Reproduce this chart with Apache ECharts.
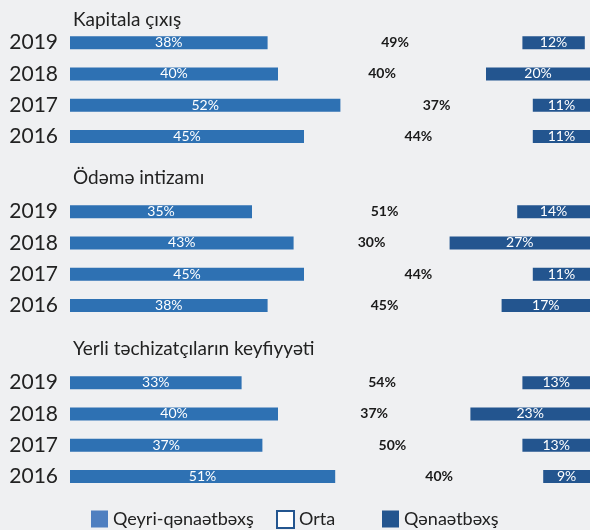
<!DOCTYPE html>
<html>
<head>
<meta charset="utf-8">
<script src="https://cdn.jsdelivr.net/npm/echarts@6/dist/echarts.min.js"></script>
<style>
  html, body { margin: 0; padding: 0; background: #eff0f2; }
  #chart { width: 590px; height: 530px; }
</style>
</head>
<body>
<div id="chart"></div>
<script>
// illər (yuxarıdan aşağı)
const years = ['2019', '2018', '2017', '2016'];
const panelTitles = ['Kapitala çıxış', 'Ödəmə intizamı', 'Yerli təchizatçıların keyfiyyəti'];
const seriesNames = ['Qeyri-qənaətbəxş', 'Orta', 'Qənaətbəxş'];

// Kapitala çıxış
const kapitalaQeyri = [38, 40, 52, 45];
const kapitalaOrta = [49, 40, 37, 44];
const kapitalaQenaet = [12, 20, 11, 11];
// Ödəmə intizamı
const odemeQeyri = [35, 43, 45, 38];
const odemeOrta = [51, 30, 44, 45];
const odemeQenaet = [14, 27, 11, 17];
// Yerli təchizatçıların keyfiyyəti
const yerliQeyri = [33, 40, 37, 51];
const yerliOrta = [54, 37, 50, 40];
const yerliQenaet = [13, 23, 13, 9];

const panels = [
  [kapitalaQeyri, kapitalaOrta, kapitalaQenaet],
  [odemeQeyri, odemeOrta, odemeQenaet],
  [yerliQeyri, yerliOrta, yerliQenaet]
];

const LIGHT = '#2e71b3';
const DARK = '#23558f';
const FONT = 'Lato';
const gridTops = [27, 196, 367];
const titleTops = [5, 163, 334];

const chart = echarts.init(document.getElementById('chart'));

const grids = [], xAxes = [], yAxes = [], series = [], titles = [];
panels.forEach((p, i) => {
  grids.push({ left: 70, right: 0, top: gridTops[i], height: 125 });
  xAxes.push({ gridIndex: i, type: 'value', min: 0, max: 100, show: false });
  yAxes.push({
    gridIndex: i, type: 'category', data: years, inverse: true,
    axisLine: { show: false }, axisTick: { show: false },
    axisLabel: { color: '#222', fontSize: 21, fontFamily: FONT, margin: 12 }
  });
  titles.push({
    text: panelTitles[i], left: 68, top: titleTops[i],
    textStyle: { color: '#222', fontSize: 19, fontWeight: 'normal', fontFamily: FONT }
  });
  const colors = [LIGHT, 'rgba(0,0,0,0)', DARK];
  p.forEach((vals, k) => {
    series.push({
      name: seriesNames[k], type: 'bar', stack: 'p' + i,
      xAxisIndex: i, yAxisIndex: i, barWidth: 13,
      data: vals,
      itemStyle: { color: colors[k] },
      label: {
        show: true, position: 'inside',
        formatter: '{c}%',
        color: k === 1 ? '#1a1a1a' : '#fff',
        fontSize: 14, fontFamily: FONT,
        fontWeight: k === 1 ? 'bold' : 'normal'
      },
      emphasis: { disabled: true }
    });
  });
});

const legendText = { color: '#222', fontSize: 18, fontFamily: FONT };
chart.setOption({
  backgroundColor: '#eff0f2',
  animation: false,
  title: titles,
  grid: grids,
  xAxis: xAxes,
  yAxis: yAxes,
  legend: [
    { left: 86, top: 505, itemWidth: 17, itemHeight: 17, textStyle: legendText, selectedMode: false,
      data: [{ name: seriesNames[0], icon: 'rect', itemStyle: { color: '#4f7fc0' } }] },
    { left: 271, top: 505, itemWidth: 17, itemHeight: 17, textStyle: legendText, selectedMode: false,
      data: [{ name: seriesNames[1], icon: 'rect', itemStyle: { color: '#fff', borderColor: DARK, borderWidth: 2 } }] },
    { left: 377, top: 505, itemWidth: 17, itemHeight: 17, textStyle: legendText, selectedMode: false,
      data: [{ name: seriesNames[2], icon: 'rect', itemStyle: { color: DARK } }] }
  ],
  series: series
});
</script>
</body>
</html>
